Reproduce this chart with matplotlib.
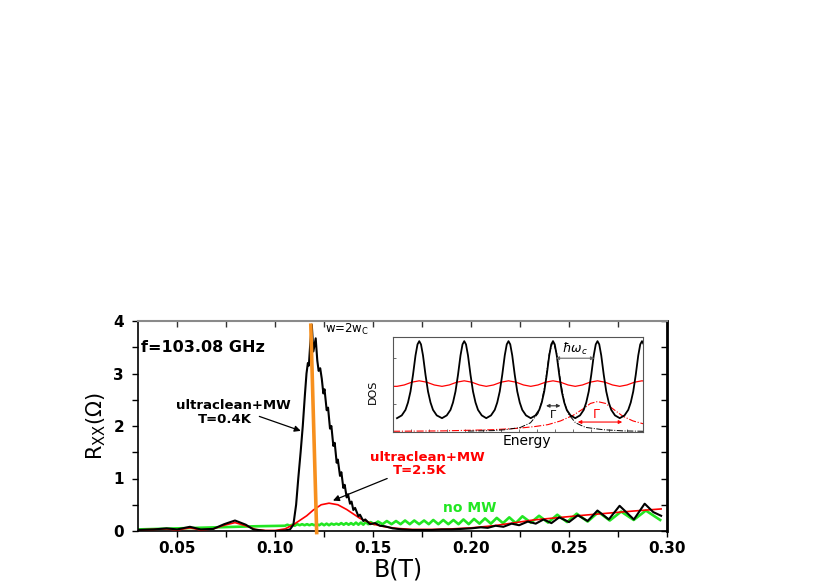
import matplotlib
matplotlib.use("Agg")
import matplotlib.pyplot as plt
from matplotlib.ticker import MultipleLocator
import numpy as np

plt.rcParams['font.family'] = ['DejaVu Sans']

# ---------------- main data ----------------
black_B = [0.030, 0.038, 0.0446, 0.050, 0.0565, 0.062, 0.0684, 0.074, 0.0795, 0.085,
           0.0889, 0.095, 0.1008, 0.1050, 0.1076, 0.1093, 0.1107, 0.1118, 0.1130, 0.1141,
           0.1152, 0.1160, 0.1167, 0.1172, 0.1178, 0.1187, 0.1195, 0.1207, 0.1215, 0.1222,
           0.1230, 0.1238, 0.1246, 0.1252, 0.1263, 0.1270, 0.1280, 0.1287, 0.1297, 0.1304,
           0.1314, 0.1320, 0.1331, 0.1338, 0.1348, 0.1355, 0.1365, 0.1372, 0.1382, 0.1390,
           0.1399, 0.1408, 0.1425, 0.1433, 0.1450, 0.1460, 0.1484, 0.1510, 0.1535, 0.1560,
           0.160, 0.165, 0.170, 0.175, 0.180, 0.185, 0.190, 0.195, 0.200, 0.205,
           0.2085, 0.2125, 0.2165, 0.2207, 0.2245, 0.2290, 0.2330, 0.2370, 0.2410, 0.2450,
           0.2500, 0.2545, 0.2595, 0.2645, 0.2703, 0.2758, 0.2831, 0.2886, 0.2930, 0.2970]
black_R = [0.02, 0.03, 0.05, 0.03, 0.08, 0.03, 0.04, 0.13, 0.20, 0.12,
           0.03, 0.00, 0.00, 0.01, 0.03, 0.12, 0.50, 1.00, 1.50, 2.00,
           2.60, 3.00, 3.20, 3.15, 3.50, 3.93, 3.42, 3.67, 3.25, 3.05,
           3.10, 2.90, 2.62, 2.70, 2.30, 2.35, 1.95, 2.00, 1.62, 1.68,
           1.30, 1.36, 1.05, 1.12, 0.82, 0.88, 0.64, 0.70, 0.52, 0.56,
           0.40, 0.44, 0.28, 0.31, 0.19, 0.22, 0.13, 0.15, 0.10, 0.09,
           0.05, 0.03, 0.02, 0.02, 0.02, 0.03, 0.03, 0.04, 0.05, 0.07,
           0.06, 0.10, 0.08, 0.14, 0.11, 0.18, 0.14, 0.22, 0.15, 0.26,
           0.17, 0.30, 0.19, 0.39, 0.22, 0.48, 0.22, 0.52, 0.36, 0.29]

red_B = [0.030, 0.038, 0.0446, 0.050, 0.0565, 0.062, 0.0684, 0.074, 0.0795, 0.085,
         0.090, 0.095, 0.100, 0.105, 0.1093, 0.1161, 0.1195, 0.1235, 0.1275, 0.1320,
         0.1365, 0.1433, 0.1501, 0.156, 0.162, 0.170, 0.180, 0.190, 0.200, 0.2115,
         0.2228, 0.2318, 0.2573, 0.2828, 0.2970]
red_R = [0.02, 0.03, 0.04, 0.02, 0.06, 0.02, 0.04, 0.11, 0.16, 0.10,
         0.03, 0.01, 0.01, 0.04, 0.12, 0.29, 0.40, 0.50, 0.53, 0.50,
         0.41, 0.24, 0.13, 0.08, 0.05, 0.03, 0.03, 0.04, 0.06, 0.10,
         0.16, 0.21, 0.30, 0.38, 0.42]

green_B = [0.030, 0.060, 0.090, 0.1050,
           0.10625, 0.1075, 0.10875, 0.1100, 0.11125, 0.1125, 0.11375, 0.1150, 0.11625, 0.1175,
           0.11875, 0.1200, 0.12125, 0.1225, 0.12375, 0.1250, 0.12625, 0.1275, 0.12875, 0.1300,
           0.13125, 0.1325, 0.13375, 0.1350, 0.13625, 0.1375, 0.13875, 0.1400, 0.14125, 0.1425,
           0.14375, 0.1450, 0.14625, 0.1475, 0.14875, 0.1505, 0.1525, 0.1548,
           0.1570, 0.1594, 0.1617, 0.1640, 0.1663, 0.1687, 0.1710, 0.1735, 0.1760, 0.1784,
           0.1807, 0.1833, 0.1858, 0.1884, 0.1910, 0.1936, 0.1961, 0.1988, 0.2015, 0.2043,
           0.2071, 0.2101, 0.2131, 0.2163, 0.2195, 0.2228, 0.2262, 0.2305, 0.2347, 0.2393,
           0.2440, 0.2490, 0.2539, 0.2595, 0.2650, 0.2708, 0.2766, 0.2830, 0.2892, 0.2965]
green_R = [0.03, 0.06, 0.09, 0.10,
           0.12, 0.10, 0.12, 0.10, 0.13, 0.11, 0.13, 0.11, 0.13, 0.11,
           0.13, 0.11, 0.13, 0.11, 0.14, 0.11, 0.14, 0.11, 0.14, 0.12,
           0.14, 0.12, 0.15, 0.12, 0.15, 0.12, 0.15, 0.12, 0.16, 0.12,
           0.16, 0.12, 0.17, 0.13, 0.17, 0.13, 0.18, 0.13,
           0.19, 0.13, 0.19, 0.13, 0.20, 0.13, 0.20, 0.13, 0.20, 0.13,
           0.21, 0.13, 0.21, 0.13, 0.21, 0.13, 0.22, 0.13, 0.23, 0.14,
           0.24, 0.14, 0.25, 0.15, 0.26, 0.15, 0.28, 0.16, 0.29, 0.16,
           0.31, 0.17, 0.33, 0.18, 0.36, 0.20, 0.37, 0.21, 0.39, 0.21]

orange_B = [0.1182, 0.1212]
orange_R = [3.92, -0.03]

# ---------------- inset data (schematic DOS) ----------------
peak_positions = [0.105, 0.285, 0.462, 0.640, 0.818, 0.996]
black_offsets = [-0.089, -0.070, -0.055, -0.045, -0.035, -0.025, -0.015, -0.007, 0.0,
                 0.007, 0.015, 0.025, 0.035, 0.045, 0.055, 0.070]
black_profile = [0.15, 0.18, 0.24, 0.32, 0.44, 0.62, 0.83, 0.95, 0.985,
                 0.95, 0.83, 0.62, 0.44, 0.32, 0.24, 0.18]
red_offsets = [-0.089, -0.060, -0.030, 0.0, 0.030, 0.060]
red_profile = [0.495, 0.51, 0.54, 0.555, 0.54, 0.51]
bl_dd_x = [0.30, 0.40, 0.45, 0.51, 0.55, 0.58, 0.595, 0.61, 0.625, 0.64,
           0.655, 0.67, 0.685, 0.70, 0.73, 0.77, 0.84, 0.92, 1.00]
bl_dd_y = [0.01, 0.015, 0.025, 0.05, 0.10, 0.20, 0.33, 0.55, 0.85, 0.985,
           0.85, 0.55, 0.33, 0.20, 0.10, 0.05, 0.025, 0.012, 0.008]
rd_dd_x = [0.00, 0.20, 0.40, 0.50, 0.57, 0.62, 0.67, 0.72, 0.76, 0.79, 0.818,
           0.85, 0.88, 0.92, 0.96, 1.00]
rd_dd_y = [0.008, 0.012, 0.025, 0.04, 0.06, 0.08, 0.12, 0.18, 0.25, 0.31, 0.33,
           0.31, 0.25, 0.17, 0.12, 0.09]

# ---------------- figure ----------------
fig = plt.figure(figsize=(8.3, 5.81), dpi=100)
ax = fig.add_axes([138/830, 50/581, 529/830, 210/581])

ax.plot(green_B, green_R, color='#22E622', lw=1.9, zorder=2, solid_joinstyle='round')
ax.plot(red_B, red_R, color='red', lw=1.2, zorder=3)
ax.plot(black_B, black_R, color='black', lw=1.5, zorder=4, solid_joinstyle='round')
ax.plot(orange_B, orange_R, color='#F7901E', lw=2.6, zorder=5, clip_on=False)

ax.set_xlim(0.03, 0.30)
ax.set_ylim(0, 4)
ax.xaxis.set_minor_locator(MultipleLocator(0.025))
ax.yaxis.set_major_locator(MultipleLocator(1))
ax.yaxis.set_minor_locator(MultipleLocator(0.5))
ax.set_xticks([0.05, 0.10, 0.15, 0.20, 0.25, 0.30])
ax.set_xticklabels(['0.05', '0.10', '0.15', '0.20', '0.25', '0.30'])
ax.tick_params(which='both', direction='out', length=4, width=1, top=False, right=False)
ax.tick_params(axis='x', which='major', labelsize=11, pad=3)
ax.tick_params(axis='y', which='major', labelsize=11, pad=6)
for lab in ax.get_xticklabels() + ax.get_yticklabels():
    lab.set_fontweight('bold')

# mirror ticks (inward) on top and right
axt = ax.secondary_xaxis('top')
axt.xaxis.set_major_locator(MultipleLocator(0.025))
axt.tick_params(direction='in', length=4, width=1, labeltop=False, color='#333333')
axr = ax.secondary_yaxis('right')
axr.yaxis.set_major_locator(MultipleLocator(0.5))
axr.tick_params(direction='in', length=4, width=1, labelright=False)
for s in axt.spines.values():
    s.set_visible(False)
for s in axr.spines.values():
    s.set_visible(False)

ax.spines['top'].set_color('#8a8a8a')
ax.spines['top'].set_linewidth(1.5)
ax.spines['left'].set_linewidth(1.2)
ax.spines['bottom'].set_linewidth(1.2)
ax.spines['right'].set_linewidth(2.0)

ax.set_xlabel('B(T)', fontsize=17)
ax.xaxis.set_label_coords((398 - 138) / 529, -0.125)
ax.set_ylabel(r'R$_{\rm XX}$($\Omega$)', fontsize=15, labelpad=4)

ax.text(0.0315, 3.49, 'f=103.08 GHz', fontsize=11.5, fontweight='bold', ha='left', va='center')
ax.text(0.1255, 3.83, r'w=2w$_{\rm C}$', fontsize=8.5, ha='left', va='center')
ax.text(0.0785, 2.39, 'ultraclean+MW', fontsize=9.5, fontweight='bold', ha='center', va='center')
ax.text(0.0745, 2.13, 'T=0.4K', fontsize=9.5, fontweight='bold', ha='center', va='center')
ax.text(0.1778, 1.40, 'ultraclean+MW', fontsize=9.5, fontweight='bold', color='red', ha='center', va='center')
ax.text(0.1737, 1.15, 'T=2.5K', fontsize=9.5, fontweight='bold', color='red', ha='center', va='center')
ax.text(0.1995, 0.43, 'no MW', fontsize=10, fontweight='bold', color='#22E622', ha='center', va='center')

ax.annotate('', xy=(0.1144, 1.89), xytext=(0.0906, 2.20),
            arrowprops=dict(arrowstyle='-|>', color='black', lw=0.9, mutation_scale=9))
ax.annotate('', xy=(0.1282, 0.56), xytext=(0.1585, 1.02),
            arrowprops=dict(arrowstyle='-|>', color='black', lw=0.9, mutation_scale=9))

# ---------------- inset ----------------
ins = fig.add_axes([393/830, (581-432)/581, 250/830, 95/581])
bx, by = [], []
for p in peak_positions:
    for o, v in zip(black_offsets, black_profile):
        bx.append(p + o)
        by.append(v)
rx, ry = [0.0], [0.495]
for p in peak_positions:
    for o, v in zip(red_offsets, red_profile):
        rx.append(p + o)
        ry.append(v)

ins.plot(rd_dd_x, rd_dd_y, color='red', lw=0.8, ls='-.')
ins.plot(bl_dd_x, bl_dd_y, color='black', lw=0.7, ls='-.')
ins.plot(rx, ry, color='red', lw=0.9)
ins.plot(bx, by, color='black', lw=1.3)
ins.set_xlim(0, 1)
ins.set_ylim(0, 1.03)
for s in ins.spines.values():
    s.set_color('#555555')
    s.set_linewidth(0.8)
ins.set_xticks(np.arange(0.0, 1.0, 0.072))
ins.set_yticks([0.3, 0.8])
ins.tick_params(direction='in', length=2.5, width=0.6, colors='#555555',
                labelbottom=False, labelleft=False)

ins.annotate('', xy=(0.639, 0.80), xytext=(0.817, 0.80),
             arrowprops=dict(arrowstyle='<|-|>', color='#666666', lw=0.8, mutation_scale=5))
ins.text(0.728, 0.90, r'$\hbar\omega_c$', fontsize=9, ha='center', va='center')
ins.annotate('', xy=(0.601, 0.284), xytext=(0.681, 0.284),
             arrowprops=dict(arrowstyle='<|-|>', color='#333333', lw=0.8, mutation_scale=5))
ins.text(0.641, 0.20, r'$\Gamma$', fontsize=8, ha='center', va='center')
ins.annotate('', xy=(0.728, 0.108), xytext=(0.928, 0.108),
             arrowprops=dict(arrowstyle='<|-|>', color='red', lw=0.8, mutation_scale=5))
ins.text(0.815, 0.19, r'$\Gamma$', fontsize=9, color='red', ha='center', va='center')
ins.text(-0.08, 0.42, 'DOS', fontsize=8, rotation=90, ha='center', va='center',
         transform=ins.transAxes)
ins.text(0.535, -0.09, 'Energy', fontsize=10, ha='center', va='center',
         transform=ins.transAxes)

fig.savefig('out.png', dpi=100)
